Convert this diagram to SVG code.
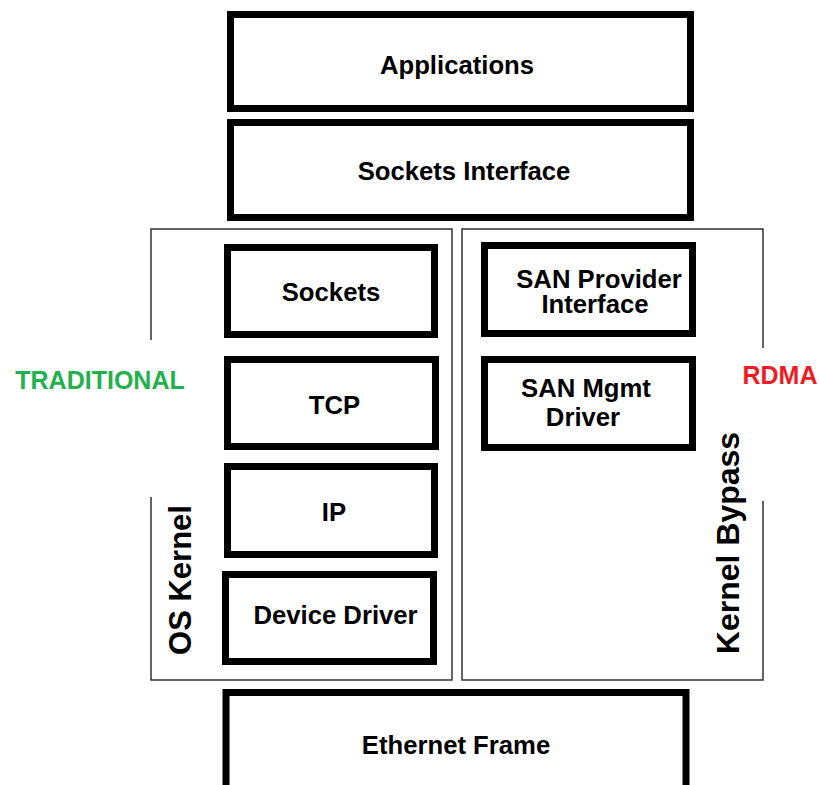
<svg xmlns="http://www.w3.org/2000/svg" width="819" height="785" viewBox="0 0 819 785">
  <style>
    .layer { fill: #ffffff; stroke: #000000; stroke-width: 7; }
    .frame { fill: none; stroke: #333333; stroke-width: 1.5; }
    .lbl { font-family: "Liberation Sans", Arial, sans-serif; font-weight: bold; font-size: 25.7px; fill: #000000; text-anchor: middle; }
    .side { font-family: "Liberation Sans", Arial, sans-serif; font-weight: bold; font-size: 31px; fill: #000000; text-anchor: middle; }
    .tag { font-family: "Liberation Sans", Arial, sans-serif; font-weight: bold; font-size: 25px; text-anchor: middle; }
    .trad { fill: #22b14c; }
    .rdma { fill: #ed1c24; }
  </style>
  <rect width="819" height="785" fill="#ffffff"/>

  <!-- enclosing frames for the two stacks -->
  <g id="frames">
    <path class="frame" d="M151,340 V229 H452 V680 H151 V497"/>
    <path class="frame" d="M763,348 V229 H462 V680 H763 V501"/>
  </g>

  <g id="applications">
    <rect class="layer" x="230.5" y="14.5" width="460" height="94"/>
    <text class="lbl" x="457" y="74">Applications</text>
  </g>
  <g id="sockets-interface">
    <rect class="layer" x="230.5" y="122.5" width="460" height="95"/>
    <text class="lbl" x="464" y="180">Sockets Interface</text>
  </g>

  <g id="sockets">
    <rect class="layer" x="227.5" y="247.5" width="207" height="87"/>
    <text class="lbl" x="331" y="301">Sockets</text>
  </g>
  <g id="tcp">
    <rect class="layer" x="227.5" y="359.5" width="208" height="87"/>
    <text class="lbl" x="334.5" y="414">TCP</text>
  </g>
  <g id="ip">
    <rect class="layer" x="227.5" y="466.5" width="207" height="88"/>
    <text class="lbl" x="334" y="521">IP</text>
  </g>
  <g id="device-driver">
    <rect class="layer" x="225.5" y="574.5" width="208" height="87"/>
    <text class="lbl" x="335.5" y="624">Device Driver</text>
  </g>

  <g id="san-provider">
    <rect class="layer" x="484.5" y="245.5" width="208" height="88"/>
    <text class="lbl" x="599" y="288">SAN Provider</text>
    <text class="lbl" x="595" y="313">Interface</text>
  </g>
  <g id="san-mgmt">
    <rect class="layer" x="484.5" y="359.5" width="208" height="88"/>
    <text class="lbl" x="586" y="397">SAN Mgmt</text>
    <text class="lbl" x="583" y="426">Driver</text>
  </g>

  <g id="ethernet-frame">
    <rect class="layer" x="226" y="692.5" width="460" height="100"/>
    <text class="lbl" x="456" y="754">Ethernet Frame</text>
  </g>

  <!-- side labels -->
  <g id="labels">
    <text class="tag trad" x="100" y="389">TRADITIONAL</text>
    <text class="tag rdma" x="780" y="384">RDMA</text>
    <text class="side" transform="translate(191,580) rotate(-90)">OS Kernel</text>
    <text class="side" style="font-size:32px" transform="translate(739,543) rotate(-90)">Kernel Bypass</text>
  </g>
</svg>
